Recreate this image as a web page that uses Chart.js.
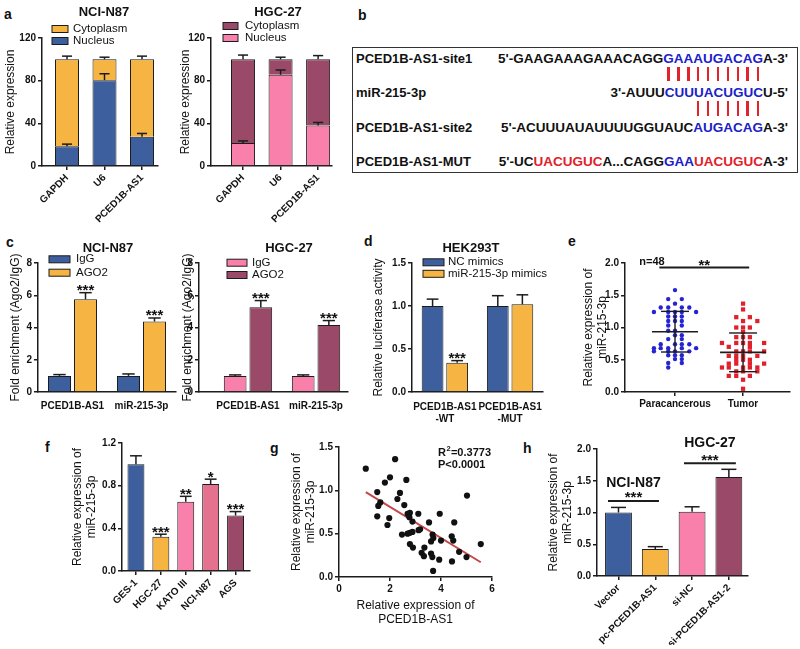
<!DOCTYPE html>
<html>
<head>
<meta charset="utf-8">
<script src="https://cdn.jsdelivr.net/npm/chart.js@4.4.0/dist/chart.umd.min.js"></script>
<style>
  body { margin: 0; background: #fff; }
  #fig { position: relative; width: 800px; height: 649px; overflow: hidden; font-family: 'Liberation Sans', Arial, sans-serif; color: #111; }
  .pl { position: absolute; font-weight: bold; font-size: 14px; line-height: 16px; }
  #seqbox { position: absolute; left: 352px; top: 47px; width: 446px; height: 126px; border: 1.5px solid #333; box-sizing: border-box; }
  .nm, .sq { position: absolute; font-weight: bold; white-space: nowrap; line-height: 16px; }
  .nm { left: 356px; font-size: 13px; }
  .sq { right: 12px; font-size: 13.5px; }
  .bl { color: #2020c8; }
  .rd { color: #e2202a; }
  .pair { position: absolute; width: 2.5px; background: #e3232b; }
</style>
</head>
<body>
<div id="fig">
  <div class="pl" style="left:4px;top:6px">a</div>
  <div class="pl" style="left:358px;top:7px">b</div>
  <div class="pl" style="left:6px;top:234px">c</div>
  <div class="pl" style="left:364px;top:233px">d</div>
  <div class="pl" style="left:568px;top:233px">e</div>
  <div class="pl" style="left:45px;top:439px">f</div>
  <div class="pl" style="left:270px;top:440px">g</div>
  <div class="pl" style="left:523px;top:440px">h</div>
  <div id="seqbox"></div>
</div>
<script>
// ---- data ----
const fracCats = ['GAPDH', 'U6', 'PCED1B-AS1'];
const n87Nucleus = [18.5, 80.5, 27.5];
const n87NucleusErr = [2, 6, 3];
const n87Cyto = [81.5, 19.5, 72.5];
const n87CytoErr = [3, 2, 3];
const hgcNucleus = [21.5, 85.5, 38];
const hgcNucleusErr = [2, 4.5, 2.8];
const hgcCyto = [78.5, 14.5, 62];
const hgcCytoErr = [4, 2, 3.5];

const ripCats = ['PCED1B-AS1', 'miR-215-3p'];
const n87IgG = [1.0, 1.0];
const n87IgGErr = [0.08, 0.12];
const n87AGO2 = [5.75, 4.37];
const n87AGO2Err = [0.41, 0.22];
const hgcIgG = [1.0, 1.0];
const hgcIgGErr = [0.06, 0.06];
const hgcAGO2 = [5.26, 4.16];
const hgcAGO2Err = [0.41, 0.27];
const ripStars = ['***', '***'];

const lucCats = [['PCED1B-AS1', '-WT'], ['PCED1B-AS1', '-MUT']];
const lucNC = [1.0, 1.0];
const lucNCErr = [0.08, 0.12];
const lucMimic = [0.34, 1.02];
const lucMimicErr = [0.025, 0.11];
const lucStars = ['***', ''];

const tissueCats = ['Paracancerous', 'Tumor'];
const paraVals = [1.58, 1.44, 1.44, 1.37, 1.31, 1.31, 1.31, 1.31, 1.24, 1.24, 1.24, 1.24, 1.24,
  1.17, 1.17, 1.17, 1.10, 1.10, 1.10, 1.03, 1.03, 0.95, 0.95, 0.88, 0.88, 0.82, 0.82,
  0.74, 0.74, 0.74, 0.74, 0.68, 0.68, 0.68, 0.68, 0.68, 0.63, 0.63, 0.63, 0.63,
  0.57, 0.57, 0.57, 0.51, 0.51, 0.45, 0.45, 0.38];
const paraOff = [0, -0.10, 0.10, 0, -0.21, -0.10, 0.10, 0.21, -0.31, -0.10, 0, 0.10, 0.31,
  -0.10, 0, 0.10, -0.10, 0, 0.10, -0.10, 0.10, -0.10, 0, 0, 0.10, -0.10, 0.10,
  -0.21, 0, 0.10, 0.21, -0.31, -0.21, -0.10, 0.10, 0.31, -0.31, -0.10, 0, 0.21,
  -0.10, 0, 0.10, 0, 0.10, -0.10, 0.10, -0.10];
const tumorVals = [1.37, 1.28, 1.16, 1.16, 1.10, 1.10, 1.00, 1.00, 1.00, 0.93, 0.85, 0.85, 0.85,
  0.76, 0.76, 0.76, 0.76, 0.76, 0.70, 0.70, 0.63, 0.63, 0.63, 0.63, 0.56, 0.56, 0.56, 0.56,
  0.50, 0.50, 0.50, 0.44, 0.44, 0.44, 0.44, 0.38, 0.38, 0.38, 0.38, 0.38,
  0.32, 0.32, 0.32, 0.25, 0.25, 0.25, 0.19, 0.05];
const tumorOff = [0, 0, -0.10, 0.10, 0, 0.21, -0.10, 0, 0.10, 0, -0.10, 0, 0.10,
  -0.31, -0.10, 0, 0.10, 0.31, -0.21, 0.10, -0.10, 0, 0.10, 0.31, -0.21, -0.10, 0, 0.21,
  -0.10, 0, 0.10, -0.21, -0.10, 0.10, 0.31, -0.31, -0.21, 0, 0.10, 0.21,
  -0.10, 0, 0.21, -0.21, -0.10, 0.10, 0, 0];
const tissueMean = [0.935, 0.615];
const tissueSd = [0.315, 0.30];

const lineCats = ['GES-1', 'HGC-27', 'KATO III', 'NCI-N87', 'AGS'];
const lineVals = [1.0, 0.32, 0.65, 0.815, 0.52];
const lineErr = [0.08, 0.025, 0.05, 0.046, 0.037];
const lineStars = ['', '***', '**', '*', '***'];

const corrX = [1.05, 2.2, 1.5, 1.8, 2.0, 2.64, 2.39, 2.29, 1.62, 1.54, 2.56, 1.5, 1.97, 1.9, 2.69,
  2.78, 2.76, 2.88, 3.11, 3.95, 3.53, 4.52, 5.02, 2.47, 2.69, 2.78, 2.88, 3.12, 3.18, 3.67,
  3.7, 3.61, 4.0, 4.42, 4.48, 2.78, 2.9, 3.35, 3.24, 3.33, 3.61, 3.66, 4.71, 3.93, 4.43, 5.0, 5.56, 3.69];
const corrY = [1.25, 1.36, 0.98, 1.09, 1.15, 1.12, 0.97, 0.90, 0.86, 0.82, 0.83, 0.70, 0.68, 0.60, 0.73,
  0.74, 0.69, 0.64, 0.73, 0.73, 0.63, 0.63, 0.94, 0.49, 0.50, 0.51, 0.52, 0.54, 0.55, 0.49,
  0.45, 0.41, 0.42, 0.47, 0.42, 0.38, 0.34, 0.34, 0.28, 0.24, 0.27, 0.23, 0.29, 0.20, 0.18, 0.23, 0.38, 0.07];
const fitX = [1.05, 5.56];
const fitY = [0.98, 0.17];

const ovCats = ['Vector', 'pc-PCED1B-AS1', 'si-NC', 'si-PCED1B-AS1-2'];
const ovVals = [1.0, 0.425, 1.01, 1.56];
const ovErr = [0.08, 0.037, 0.08, 0.12];

// ---- style ----
const BLUE = '#3d5f9e', YEL = '#f6b443', MAR = '#9a4a68', PINK = '#f980ab', ROSE = '#e4718e';
const INK = '#1c1c1c';
const FONT = "'Liberation Sans', Arial, sans-serif";
const TICK = 10;
Chart.defaults.font.family = FONT;
Chart.defaults.color = '#111';

// ---- panel b (sequence box) ----
const seqRows = [
  ['PCED1B-AS1-site1', [["5'-GAAGAAAGAAACAGG", ''], ['GAAAUGACAG', 'bl'], ["A-3'", '']], 59],
  ['miR-215-3p', [["3'-AUUU", ''], ['CUUUACUGUC', 'bl'], ["U-5'", '']], 93],
  ['PCED1B-AS1-site2', [["5'-ACUUUAUAUUUUGGUAUC", ''], ['AUGACAG', 'bl'], ["A-3'", '']], 128],
  ['PCED1B-AS1-MUT', [["5'-UC", ''], ['UACUGUC', 'rd'], ['A...CAGG', ''], ['GAA', 'bl'], ['UACUGUC', 'rd'], ["A-3'", '']], 162]
];
const fig = document.getElementById('fig');
seqRows.forEach((r, ri) => {
  const nm = document.createElement('div');
  nm.className = 'nm'; nm.style.top = (r[2] - 8) + 'px'; nm.textContent = r[0];
  fig.appendChild(nm);
  const sq = document.createElement('div');
  sq.className = 'sq'; sq.style.top = (r[2] - 8) + 'px';
  r[1].forEach(([s, cls]) => {
    const sp = document.createElement('span');
    if (cls) sp.className = cls;
    if (cls === 'bl' && (ri === 0 || ri === 2)) {
      [...s].forEach(ch => { const l = document.createElement('span'); l.className = 'L' + ri; l.textContent = ch; sp.appendChild(l); });
    } else sp.textContent = s;
    sq.appendChild(sp);
  });
  fig.appendChild(sq);
});
[[0, 67, 81], [2, 101, 116]].forEach(([ri, y0, y1]) => {
  const fr = fig.getBoundingClientRect();
  document.querySelectorAll('.L' + ri).forEach(l => {
    const b = l.getBoundingClientRect();
    const p = document.createElement('div');
    p.className = 'pair';
    p.style.left = (b.left - fr.left + b.width / 2 - 1.25) + 'px';
    p.style.top = y0 + 'px'; p.style.height = (y1 - y0) + 'px';
    fig.appendChild(p);
  });
});

// ---- helpers ----
const deco = {};

function line(ctx, x1, y1, x2, y2, w) {
  ctx.lineWidth = w; ctx.strokeStyle = INK;
  ctx.beginPath(); ctx.moveTo(x1, y1); ctx.lineTo(x2, y2); ctx.stroke();
}
function txt(ctx, s, x, y, size, bold, align) {
  ctx.font = (bold ? 'bold ' : '') + size + 'px ' + FONT;
  ctx.fillStyle = '#111'; ctx.textAlign = align || 'center'; ctx.textBaseline = 'middle';
  ctx.fillText(s, x, y);
}
function stars(ctx, s, x, cy) {
  ctx.font = 'bold 15px ' + FONT;
  ctx.fillStyle = '#111'; ctx.textAlign = 'center'; ctx.textBaseline = 'alphabetic';
  ctx.fillText(s, x, cy + 8.5);
}

const decoPlugin = {
  id: 'deco',
  afterDatasetsDraw(chart) {
    const d = deco[chart.canvas.id];
    if (!d) return;
    const ctx = chart.ctx, xs = chart.scales.x, ys = chart.scales.y;
    ctx.save();
    // error bars and significance marks
    chart.data.datasets.forEach((ds, di) => {
      if (!ds.err) return;
      chart.getDatasetMeta(di).data.forEach((bar, i) => {
        const len = ys.getPixelForValue(0) - ys.getPixelForValue(ds.err[i]);
        const capY = bar.y - len, hw = bar.width * (d.cap || 0.27);
        line(ctx, bar.x, bar.y, bar.x, capY, 1.5);
        line(ctx, bar.x - hw, capY, bar.x + hw, capY, 1.5);
        if (ds.stars && ds.stars[i]) stars(ctx, ds.stars[i], bar.x, capY - 6);
      });
    });
    // mean +/- SD
    (d.meanSd || []).forEach(m => {
      const x = xs.getPixelForValue(m.x);
      const ym = ys.getPixelForValue(m.mean);
      const yh = ys.getPixelForValue(m.mean + m.sd), yl = ys.getPixelForValue(m.mean - m.sd);
      line(ctx, x - 23, ym, x + 23, ym, 1.6);
      line(ctx, x, yh, x, yl, 1.4);
      line(ctx, x - 14, yh, x + 14, yh, 1.4);
      line(ctx, x - 14, yl, x + 14, yl, 1.4);
    });
    // comparison brackets
    (d.brackets || []).forEach(b => {
      const x1 = xs.getPixelForValue(b.from), x2 = xs.getPixelForValue(b.to);
      const y = ys.getPixelForValue(b.y);
      line(ctx, x1, y, x2, y, 2);
      stars(ctx, b.stars, (x1 + x2) / 2, y - b.gap);
      if (b.label) txt(ctx, b.label, (x1 + x2) / 2, y - b.labelGap, 14, true);
    });
    // legend
    if (d.legend) {
      const L = d.legend;
      L.order.forEach((di, k) => {
        const ds = chart.data.datasets[di];
        const cy = L.rows[k] - d.oy;
        const bx = L.x - d.ox;
        ctx.fillStyle = ds.backgroundColor;
        ctx.fillRect(bx, cy - L.bh / 2, L.bw, L.bh);
        ctx.lineWidth = 1; ctx.strokeStyle = INK;
        ctx.strokeRect(bx, cy - L.bh / 2, L.bw, L.bh);
        txt(ctx, ds.label, L.tx - d.ox, cy, 11.5, false, 'left');
      });
    }
    // free texts (page coords)
    (d.texts || []).forEach(t => txt(ctx, t.s, t.x - d.ox, t.y - d.oy, t.size, t.bold, t.align));
    if (d.after) d.after(ctx, d);
    ctx.restore();
  }
};

function place(id, P, M) {
  const left = P.l - M.yW, top = P.t - M.top;
  const w = P.r - P.l + M.yW + M.right, h = P.b - P.t + M.top + M.xH;
  const cv = document.createElement('canvas');
  cv.id = id; cv.width = w; cv.height = h;
  cv.style.cssText = 'position:absolute;left:' + left + 'px;top:' + top + 'px;width:' + w + 'px;height:' + h + 'px';
  fig.appendChild(cv);
  return { cv, left, top };
}

function axisY(min, max, step, title, fmt, w) {
  return {
    type: 'linear', min, max,
    ticks: { stepSize: step, font: { size: TICK, weight: 'bold' }, color: '#111', padding: 2, callback: fmt },
    grid: { display: true, drawOnChartArea: false, drawTicks: true, tickLength: 4, color: INK, lineWidth: 1.5 },
    border: { display: true, color: INK, width: 1.5 },
    title: { display: true, text: title, font: { size: 12 }, padding: 0, color: '#111' },
    afterFit: s => { s.width = w; }
  };
}
function axisCat(labels, min, max, h, rot, marks, pad) {
  return {
    type: 'linear', min, max, offset: false,
    afterBuildTicks: s => { s.ticks = labels.map((_, i) => ({ value: i + 1 })); },
    ticks: {
      autoSkip: false, minRotation: rot, maxRotation: rot, padding: pad,
      font: { size: TICK, weight: 'bold' }, color: '#111',
      callback: v => labels[Math.round(v) - 1]
    },
    grid: { display: true, offset: false, drawOnChartArea: false, drawTicks: marks, tickLength: 4, color: INK, lineWidth: 1.5 },
    border: { display: true, color: INK, width: 1.5 },
    afterFit: s => { s.height = h; }
  };
}
function bars(label, vals, err, color, st, extra) {
  return Object.assign({
    label, err, stars: st,
    data: vals.map((v, i) => ({ x: i + 1, y: v })),
    backgroundColor: color, borderColor: INK, borderWidth: 1
  }, extra || {});
}
function make(id, P, M, type, datasets, scales, d) {
  const c = place(id, P, M);
  d.ox = c.left; d.oy = c.top;
  deco[id] = d;
  return new Chart(c.cv, {
    type,
    data: { datasets },
    options: {
      responsive: false, animation: false,
      layout: { padding: { top: M.top, right: M.right, left: 0, bottom: 0 } },
      plugins: { legend: { display: false }, tooltip: { enabled: false } },
      scales
    },
    plugins: [decoPlugin]
  });
}
const int = v => v;
const dec1 = v => v.toFixed(1);

// ---- a: subcellular fractionation ----
make('a1', { l: 42, t: 38, r: 158, b: 166 }, { yW: 39, top: 38, right: 17, xH: 64 }, 'bar', [
  bars('Nucleus', n87Nucleus, n87NucleusErr, BLUE, null, { barPercentage: 0.64, categoryPercentage: 1 }),
  bars('Cytoplasm', n87Cyto, n87CytoErr, YEL, null, { barPercentage: 0.64, categoryPercentage: 1 })
], {
  x: Object.assign(axisCat(fracCats, 0.333, 3.427, 64, 45, true, 2), { stacked: true }),
  y: Object.assign(axisY(0, 120, 40, 'Relative expression', int, 39), { stacked: true })
}, {
  cap: 0.21,
  legend: { x: 52, rows: [29, 41], order: [1, 0], bw: 16, bh: 7, tx: 73 },
  texts: [{ s: 'NCI-N87', x: 104, y: 12, size: 13, bold: true }]
});

make('a2', { l: 211, t: 38, r: 332, b: 166 }, { yW: 33, top: 38, right: 10, xH: 64 }, 'bar', [
  bars('Nucleus', hgcNucleus, hgcNucleusErr, PINK, null, { barPercentage: 0.64, categoryPercentage: 1 }),
  bars('Cytoplasm', hgcCyto, hgcCytoErr, MAR, null, { barPercentage: 0.64, categoryPercentage: 1 })
], {
  x: Object.assign(axisCat(fracCats, 0.147, 3.37, 64, 45, true, 2), { stacked: true }),
  y: Object.assign(axisY(0, 120, 40, 'Relative expression', int, 33), { stacked: true })
}, {
  cap: 0.21,
  legend: { x: 223, rows: [26, 38], order: [1, 0], bw: 15, bh: 7, tx: 245 },
  texts: [{ s: 'HGC-27', x: 278, y: 12, size: 13, bold: true }]
});

// ---- c: RIP assay ----
const grp = { categoryPercentage: 0.754, barPercentage: 0.885 };
make('c1', { l: 38, t: 263, r: 176, b: 392 }, { yW: 30, top: 25, right: 8, xH: 28 }, 'bar', [
  bars('IgG', n87IgG, n87IgGErr, BLUE, null, grp),
  bars('AGO2', n87AGO2, n87AGO2Err, YEL, ripStars, grp)
], {
  x: axisCat(ripCats, 0.5, 2.5, 28, 0, false, 8),
  y: axisY(0, 8, 2, 'Fold enrichment (Ago2/IgG)', int, 30)
}, {
  legend: { x: 49, rows: [259.3, 272.7], order: [0, 1], bw: 21, bh: 7, tx: 76 },
  texts: [{ s: 'NCI-N87', x: 108, y: 248, size: 13, bold: true }]
});

make('c2', { l: 199, t: 263, r: 348, b: 392 }, { yW: 19, top: 25, right: 8, xH: 28 }, 'bar', [
  bars('IgG', hgcIgG, hgcIgGErr, PINK, null, grp),
  bars('AGO2', hgcAGO2, hgcAGO2Err, MAR, ripStars, grp)
], {
  x: axisCat(ripCats, 0.28, 2.47, 28, 0, false, 8),
  y: axisY(0, 8, 2, 'Fold enrichment (Ago2/IgG)', int, 19)
}, {
  legend: { x: 227, rows: [262.7, 275], order: [0, 1], bw: 20, bh: 7, tx: 252 },
  texts: [{ s: 'HGC-27', x: 289, y: 248, size: 13, bold: true }]
});

// ---- d: luciferase ----
make('d1', { l: 412, t: 263, r: 547, b: 392 }, { yW: 41, top: 25, right: 5, xH: 36 }, 'bar', [
  bars('NC mimics', lucNC, lucNCErr, BLUE, null, grp),
  bars('miR-215-3p mimics', lucMimic, lucMimicErr, YEL, lucStars, grp)
], {
  x: axisCat(lucCats, 0.496, 2.5, 36, 0, false, 9),
  y: axisY(0, 1.5, 0.5, 'Relative luciferase activity', dec1, 41)
}, {
  legend: { x: 423, rows: [262.3, 273.8], order: [0, 1], bw: 21, bh: 7, tx: 448 },
  texts: [{ s: 'HEK293T', x: 471, y: 248, size: 13, bold: true }]
});

// ---- e: tissue scatter ----
make('e1', { l: 625, t: 263, r: 790, b: 392 }, { yW: 44, top: 13, right: 8, xH: 23 }, 'scatter', [
  { label: 'Paracancerous', data: paraVals.map((v, i) => ({ x: 1 + paraOff[i], y: v })),
    pointStyle: 'circle', pointRadius: 2.2, backgroundColor: '#2424d2', borderWidth: 0 },
  { label: 'Tumor', data: tumorVals.map((v, i) => ({ x: 2 + tumorOff[i], y: v })),
    pointStyle: 'rect', pointRadius: 3, backgroundColor: '#e0202c', borderWidth: 0 }
], {
  x: axisCat(tissueCats, 0.265, 2.69, 23, 0, true, 2),
  y: axisY(0, 2, 0.5, ['Relative expression of', 'miR-215-3p'], dec1, 44)
}, {
  meanSd: tissueMean.map((m, i) => ({ x: i + 1, mean: m, sd: tissueSd[i] })),
  brackets: [{ from: 0.77, to: 2.09, y: 1.93, stars: '**', gap: 6 }],
  texts: [{ s: 'n=48', x: 652, y: 262, size: 11, bold: true }]
});

// ---- f: cell lines ----
make('f1', { l: 122, t: 442, r: 250, b: 571 }, { yW: 52, top: 7, right: 10, xH: 41 }, 'bar', [
  bars('miR-215-3p', lineVals, lineErr, [BLUE, YEL, PINK, ROSE, MAR], lineStars, { barPercentage: 0.68, categoryPercentage: 1 })
], {
  x: axisCat(lineCats, 0.44, 5.58, 41, 45, true, 2),
  y: axisY(0, 1.2, 0.4, ['Relative expression of', 'miR-215-3p'], dec1, 52)
}, { cap: 0.35 });

// ---- g: correlation ----
make('g1', { l: 339, t: 447, r: 492, b: 577 }, { yW: 50, top: 10, right: 10, xH: 50 }, 'scatter', [
  { label: 'samples', data: corrX.map((x, i) => ({ x, y: corrY[i] })), pointRadius: 3.1,
    backgroundColor: '#111', borderWidth: 0, order: 0 },
  { label: 'fit', data: fitX.map((x, i) => ({ x, y: fitY[i] })), showLine: true, pointRadius: 0,
    borderColor: '#c4474a', borderWidth: 2, order: 1 }
], {
  x: {
    type: 'linear', min: 0, max: 6,
    ticks: { stepSize: 2, font: { size: TICK, weight: 'bold' }, color: '#111', padding: 2 },
    grid: { display: true, drawOnChartArea: false, drawTicks: true, tickLength: 4, color: INK, lineWidth: 1.5 },
    border: { display: true, color: INK, width: 1.5 },
    title: { display: true, text: ['Relative expression of', 'PCED1B-AS1'], font: { size: 12 }, padding: 0, color: '#111' },
    afterFit: s => { s.height = 50; }
  },
  y: axisY(0, 1.5, 0.5, ['Relative expression of', 'miR-215-3p'], dec1, 50)
}, {
  texts: [{ s: 'P<0.0001', x: 438, y: 465, size: 11, bold: true, align: 'left' }],
  after: (ctx, d) => {
    const x0 = 438 - d.ox, y0 = 453 - d.oy;
    txt(ctx, 'R', x0, y0, 11, true, 'left');
    const w = ctx.measureText('R').width;
    txt(ctx, '2', x0 + w + 0.5, y0 - 4, 7.5, true, 'left');
    txt(ctx, '=0.3773', x0 + w + 5, y0, 11, true, 'left');
  }
});

// ---- h: overexpression / knockdown ----
make('h1', { l: 597, t: 449, r: 748, b: 576 }, { yW: 51, top: 17, right: 10, xH: 69 }, 'bar', [
  bars('miR-215-3p', ovVals, ovErr, [BLUE, YEL, PINK, MAR], null, { barPercentage: 0.73, categoryPercentage: 1 })
], {
  x: axisCat(ovCats, 0.416, 4.52, 69, 45, true, 2),
  y: axisY(0, 2, 0.5, ['Relative expression of', 'miR-215-3p'], dec1, 51)
}, {
  cap: 0.28,
  brackets: [
    { from: 0.715, to: 2.1, y: 1.18, stars: '***', gap: 8, label: 'NCI-N87', labelGap: 18 },
    { from: 2.78, to: 4.19, y: 1.775, stars: '***', gap: 7, label: 'HGC-27', labelGap: 20 }
  ]
});
</script>
</body>
</html>
